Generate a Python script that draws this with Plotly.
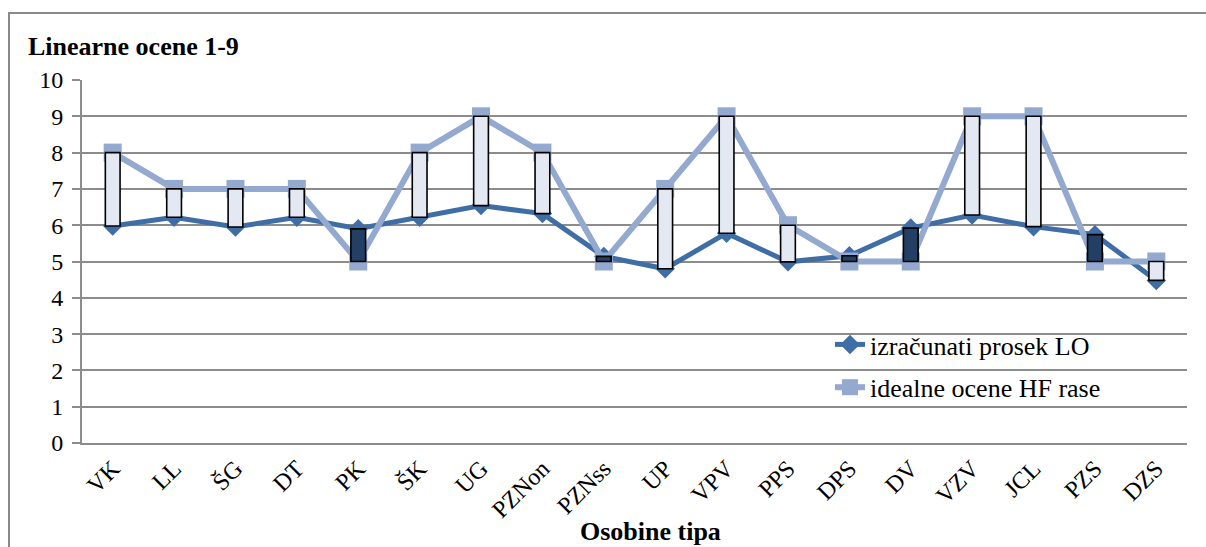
import plotly.graph_objects as go

categories = ["VK", "LL", "ŠG", "DT", "PK", "ŠK", "UG", "PZNon", "PZNss",
              "UP", "VPV", "PPS", "DPS", "DV", "VZV", "JCL", "PZS", "DZS"]
prosek_lo = [5.98, 6.22, 5.95, 6.22, 5.90, 6.22, 6.54, 6.32, 5.14,
             4.80, 5.78, 4.99, 5.16, 5.92, 6.28, 5.96, 5.74, 4.48]
idealne_hf = [8, 7, 7, 7, 5, 8, 9, 8, 5, 7, 9, 6, 5, 5, 9, 9, 5, 5]

FONT = "Liberation Serif"
GRID = "#8c8c8c"
DARK = "#3f6ea7"
LIGHT = "#93a9cf"
UP_FILL = "#e3e8f2"
DOWN_FILL = "#233f63"

diff = [h - p for h, p in zip(idealne_hf, prosek_lo)]
bar_colors = [UP_FILL if d >= 0 else DOWN_FILL for d in diff]

fig = go.Figure()
fig.add_trace(go.Scatter(
    x=categories, y=prosek_lo, name="izračunati prosek LO",
    mode="lines+markers", legendgroup="a",
    line=dict(color=DARK, width=5),
    marker=dict(symbol="diamond", size=15, color=DARK),
))
fig.add_trace(go.Scatter(
    x=categories, y=idealne_hf, name="idealne ocene HF rase",
    mode="lines+markers", legendgroup="b",
    line=dict(color=LIGHT, width=6),
    marker=dict(symbol="square", size=18, color=LIGHT),
))
# up/down bars between the two series, on an overlaid axis so they sit on top
fig.add_trace(go.Bar(
    x=categories, y=diff, base=prosek_lo, width=0.24,
    marker=dict(color=bar_colors, line=dict(color="black", width=1.6)),
    showlegend=False, xaxis="x2", yaxis="y2", hoverinfo="skip",
))

fig.update_layout(
    width=1206, height=547,
    margin=dict(l=82, r=19, t=80, b=104),
    paper_bgcolor="white", plot_bgcolor="white",
    font=dict(family=FONT, color="black"),
    title=dict(text="<b>Linearne ocene 1-9</b>", x=28 / 1206, xanchor="left",
               y=1 - 46 / 547, yanchor="middle",
               font=dict(family=FONT, size=26)),
    xaxis=dict(
        type="category", categoryorder="array", categoryarray=categories,
        range=[-0.5, len(categories) - 0.5],
        tickangle=-45, tickfont=dict(family=FONT, size=24),
        showgrid=False, showline=True, linecolor=GRID, linewidth=2,
        ticks="", zeroline=False,
    ),
    yaxis=dict(
        range=[0, 10], dtick=1, tickfont=dict(family=FONT, size=24),
        showgrid=True, gridcolor=GRID, gridwidth=2,
        showline=True, linecolor=GRID, linewidth=2,
        ticks="outside", ticklen=8, tickcolor=GRID, tickwidth=2,
        ticklabelstandoff=4, zeroline=False,
    ),
    xaxis2=dict(overlaying="x", matches="x", visible=False, type="category"),
    yaxis2=dict(overlaying="y", matches="y", visible=False),
    legend=dict(
        x=(830 - 82) / 1105, y=(443 - 321) / 363, xanchor="left", yanchor="top",
        bgcolor="rgba(0,0,0,0)", font=dict(family=FONT, size=26, color="black"),
        tracegroupgap=6,
    ),
    showlegend=True,
    annotations=[dict(
        text="<b>Osobine tipa</b>", xref="paper", yref="paper",
        x=(650 - 82) / 1105, y=(443 - 531) / 363, xanchor="center", yanchor="middle",
        showarrow=False, font=dict(family=FONT, size=26),
    )],
    shapes=[dict(
        type="rect", xref="paper", yref="paper",
        x0=(9 - 82) / 1105, x1=1.2, y0=-0.6, y1=1 + (80 - 13) / 363,
        line=dict(color="#8a8a8a", width=2), layer="below",
    )],
)

fig.write_html("out.html", config={"displayModeBar": False},
               post_script="document.body.style.margin='0';")
